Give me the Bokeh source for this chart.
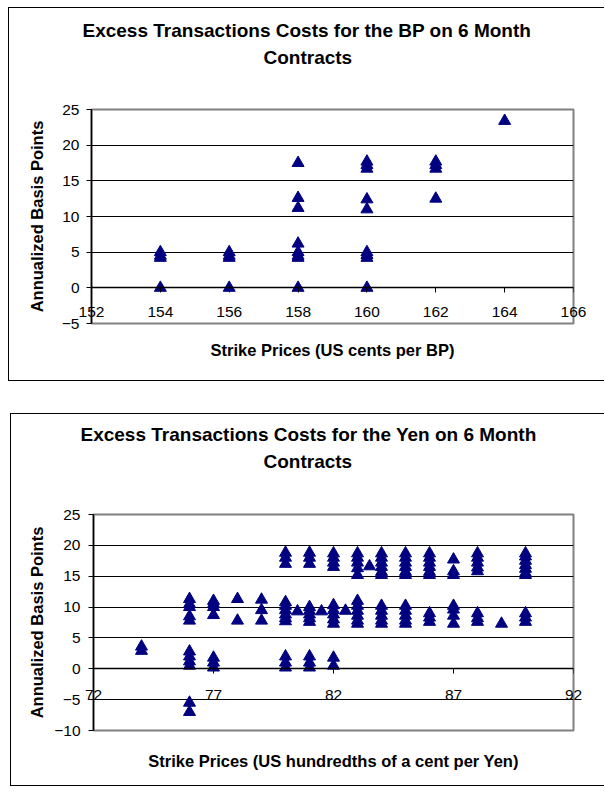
from bokeh.plotting import figure
from bokeh.models import FixedTicker, Title, Range1d, ColumnDataSource, LinearAxis
from bokeh.layouts import column
from bokeh.embed import file_html
from bokeh.resources import INLINE

# ---- British Pound data ----
bp_strikes = [154, 156, 158, 160, 162, 164]
bp_costs = [
    [0.0, 4.2, 4.5, 5.0],
    [0.0, 4.2, 4.5, 5.0],
    [0.0, 4.2, 4.5, 5.0, 6.2, 11.2, 12.6, 17.5],
    [0.0, 4.2, 4.6, 5.0, 11.0, 12.4, 16.7, 17.2, 17.7],
    [12.5, 16.7, 17.2, 17.7],
    [23.4],
]
bp_xticks = [152, 154, 156, 158, 160, 162, 164, 166]
bp_yticks = [-5, 0, 5, 10, 15, 20, 25]
bp_grid = [0, 5, 10, 15, 20]

# ---- Yen data ----
yen_strikes = [74, 76, 77, 78, 79, 80, 80.5, 81, 81.5, 82, 82.5, 83, 83.5,
               84, 85, 86, 87, 88, 89, 90]
yen_costs = [
    [2.9, 3.6],
    [-7.0, -5.5, 0.5, 1.2, 2.0, 2.8, 7.8, 8.5, 10.0, 10.5, 11.3],
    [0.2, 1.0, 1.8, 8.7, 10.0, 10.5, 11.0],
    [7.8, 11.3],
    [7.8, 9.5, 11.2],
    [0.2, 1.0, 2.0, 7.7, 8.2, 8.8, 9.5, 10.2, 10.8, 17.0, 18.0, 18.8],
    [9.3],
    [0.2, 1.0, 2.0, 7.6, 8.2, 8.8, 9.4, 10.0, 17.0, 18.0, 18.8],
    [9.3],
    [0.5, 1.8, 7.3, 8.0, 8.8, 9.5, 10.3, 16.5, 17.2, 18.0, 18.7],
    [9.4],
    [7.3, 7.8, 8.6, 9.4, 10.2, 11.0, 15.2, 16.3, 17.2, 18.0, 18.7],
    [16.6],
    [7.3, 7.8, 8.6, 9.4, 10.2, 15.2, 15.7, 16.5, 17.2, 18.0, 18.7],
    [7.3, 7.8, 8.6, 9.4, 10.2, 15.2, 15.7, 16.5, 17.2, 18.0, 18.7],
    [7.6, 8.3, 9.0, 15.2, 15.7, 16.5, 17.2, 18.0, 18.7],
    [7.3, 8.6, 9.6, 10.2, 15.2, 15.8, 17.7],
    [7.6, 8.2, 9.0, 15.8, 16.4, 17.2, 18.0, 18.7],
    [7.3],
    [7.6, 8.3, 9.0, 15.2, 15.5, 16.2, 16.8, 17.5, 18.2, 18.7],
]
yen_xticks = [72, 77, 82, 87, 92]
yen_yticks = [-10, -5, 0, 5, 10, 15, 20, 25]
yen_grid = [-5, 0, 5, 10, 15, 20]

FONT = "Liberation Sans"
NAVY = "#000080"


def flatten(strikes, costs):
    xs, ys = [], []
    for s, vals in zip(strikes, costs):
        for v in vals:
            xs.append(s)
            ys.append(v)
    return xs, ys


def make_chart(strikes, costs, title1, title2, xlabel, xticks, yticks,
               grid_ticks, width, height, borders, t1_off, t2_off, spacer,
               lab_standoff, xlab_standoff, ytick_standoff, ylab_standoff):
    left, right, top, bottom = borders
    p = figure(width=width, height=height,
               x_range=Range1d(xticks[0], xticks[-1]),
               y_range=Range1d(yticks[0], yticks[-1]),
               output_backend="svg", toolbar_location=None, title=None,
               min_border_left=left, min_border_right=right,
               min_border_top=top, min_border_bottom=bottom)
    p.styles = {"border-top": "1px solid black",
                "border-left": "1px solid black",
                "border-bottom": "1px solid black"}
    p.background_fill_color = "white"
    p.border_fill_color = "white"
    p.outline_line_color = "#808080"
    p.outline_line_width = 2

    p.xgrid.visible = False
    p.ygrid.ticker = FixedTicker(ticks=grid_ticks)
    p.ygrid.grid_line_color = "black"
    p.ygrid.grid_line_width = 1

    # axis line + ticks crossing at y = 0
    xa = p.xaxis[0]
    xa.ticker = FixedTicker(ticks=xticks)
    xa.fixed_location = 0
    xa.axis_line_color = "black"
    xa.axis_line_width = 1.5
    xa.major_tick_line_color = "black"
    xa.major_tick_out = 5
    xa.major_tick_in = 0
    xa.minor_tick_line_color = None
    xa.major_label_text_color = None

    # tick labels (unclipped) and axis title
    lab = LinearAxis(ticker=FixedTicker(ticks=xticks))
    lab.axis_line_color = None
    lab.major_tick_line_color = None
    lab.minor_tick_line_color = None
    lab.major_tick_out = 0
    lab.major_tick_in = 0
    lab.major_label_standoff = lab_standoff
    lab.major_label_text_font = FONT
    lab.major_label_text_font_size = "15.5px"
    lab.major_label_text_color = "black"
    lab.axis_label = xlabel
    lab.axis_label_text_font = FONT
    lab.axis_label_text_font_size = "16.5px"
    lab.axis_label_text_font_style = "bold"
    lab.axis_label_text_color = "black"
    lab.axis_label_standoff = xlab_standoff
    p.add_layout(lab, "below")

    ya = p.yaxis[0]
    ya.ticker = FixedTicker(ticks=yticks)
    ya.axis_line_color = "black"
    ya.axis_line_width = 1.5
    ya.major_tick_line_color = "black"
    ya.major_tick_out = 5
    ya.major_tick_in = 0
    ya.minor_tick_line_color = None
    ya.major_label_standoff = ytick_standoff
    ya.major_label_text_font = FONT
    ya.major_label_text_font_size = "15.5px"
    ya.major_label_text_color = "black"
    ya.axis_label = "Annualized Basis Points"
    ya.axis_label_text_font = FONT
    ya.axis_label_text_font_size = "16.5px"
    ya.axis_label_text_font_style = "bold"
    ya.axis_label_text_color = "black"
    ya.axis_label_standoff = ylab_standoff

    # titles, stacked outward from the frame
    p.add_layout(Title(text=" ", text_font_size="2px", standoff=spacer), "above")
    for txt, off in ((title2, t2_off), (title1, t1_off)):
        p.add_layout(Title(text=txt, align="left", offset=off, text_font=FONT,
                           text_font_size="19px", text_font_style="bold",
                           text_color="black", standoff=4), "above")

    xs, ys = flatten(strikes, costs)
    src = ColumnDataSource(data=dict(x=xs, y=ys))
    p.scatter("x", "y", source=src, marker="triangle", size=12,
              fill_color=NAVY, line_color=NAVY)
    return p


p1 = make_chart(bp_strikes, bp_costs,
                "Excess Transactions Costs for the BP on 6 Month", "Contracts",
                "Strike Prices (US cents per BP)",
                bp_xticks, bp_yticks, bp_grid,
                596, 374, (78, 32, 101, 59), -9, 172, 36,
                -17, 21, 7, 13)
p1.margin = (7, 0, 0, 8)

p2 = make_chart(yen_strikes, yen_costs,
                "Excess Transactions Costs for the Yen on 6 Month", "Contracts",
                "Strike Prices (US hundredths of a cent per Yen)",
                yen_xticks, yen_yticks, yen_grid,
                594, 373, (82, 25, 100, 57), -13, 170, 37,
                -41, 49, 8, 5)
p2.margin = (32, 0, 0, 10)

layout = column(p1, p2, spacing=0)

open("out.html", "w").write(file_html(layout, INLINE))
